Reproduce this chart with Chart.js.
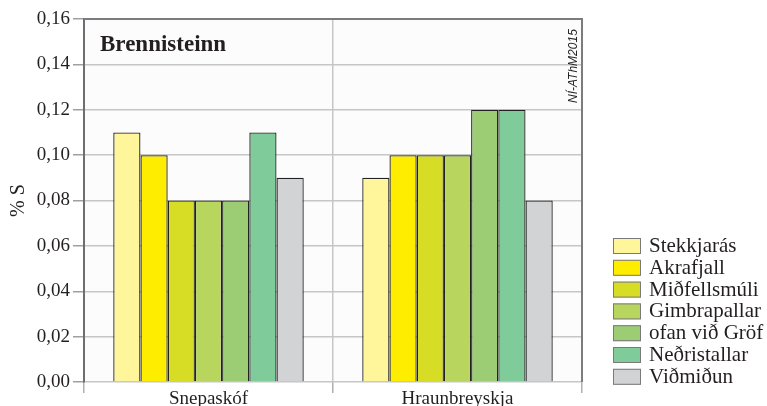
<!DOCTYPE html>
<html>
<head>
<meta charset="utf-8">
<script src="https://cdn.jsdelivr.net/npm/chart.js@4/dist/chart.umd.min.js"></script>
<style>
  html, body { margin: 0; padding: 0; background: #ffffff; }
  #wrap { width: 767px; height: 406px; }
</style>
</head>
<body>
<div id="wrap"><canvas id="chartBrennisteinn" width="767" height="406"></canvas></div>
<script>
// data
const arrStations = ["Snepaskóf", "Hraunbreyskja"];
const arrSeriesNames = ["Stekkjarás", "Akrafjall", "Miðfellsmúli", "Gimbrapallar", "ofan við Gröf", "Neðristallar", "Viðmiðun"];
const arrStekkjaras = [0.11, 0.09];
const arrAkrafjall = [0.10, 0.10];
const arrMidfellsmuli = [0.08, 0.10];
const arrGimbrapallar = [0.08, 0.10];
const arrOfanVidGrof = [0.08, 0.12];
const arrNedristallar = [0.11, 0.12];
const arrVidmidun = [0.09, 0.08];
const arrSeriesColors = ["#fff59a", "#ffed00", "#d7dd24", "#b8d65e", "#9ccd74", "#80cb9a", "#d1d3d4"];

const serif = "'Liberation Serif', 'Times New Roman', serif";
const arrValues = [arrStekkjaras, arrAkrafjall, arrMidfellsmuli, arrGimbrapallar, arrOfanVidGrof, arrNedristallar, arrVidmidun];

var datasets = [];
arrSeriesNames.forEach((name, i) => {
  datasets.push({
    label: name,
    data: arrValues[i],
    backgroundColor: arrSeriesColors[i],
    borderColor: "#222222",
    borderWidth: 1.3,
    borderSkipped: "bottom",
    categoryPercentage: 0.765,
    barPercentage: 1.0,
  });
});

// plot background, frame, title, stamp and legend
const extrasPlugin = {
  id: "extras",
  beforeDraw(chart) {
    const { ctx, chartArea: a } = chart;
    ctx.save();
    ctx.fillStyle = "#fcfcfc";
    ctx.fillRect(a.left, a.top, a.right - a.left, a.bottom - a.top);
    ctx.restore();
  },
  afterDraw(chart) {
    const { ctx, chartArea: a } = chart;
    ctx.save();
    // frame
    ctx.strokeStyle = "#7c7c7e";
    ctx.lineWidth = 2;
    ctx.beginPath();
    ctx.moveTo(a.left, a.top);
    ctx.lineTo(a.right, a.top);
    ctx.lineTo(a.right, a.bottom);
    ctx.stroke();

    // title inside plot
    ctx.fillStyle = "#231f20";
    ctx.font = "bold 23px " + serif;
    ctx.textBaseline = "alphabetic";
    ctx.fillText("Brennisteinn", 100, 51);

    // vertical stamp
    ctx.save();
    ctx.translate(577, 103);
    ctx.rotate(-Math.PI / 2);
    ctx.font = "italic 12px 'Liberation Sans', Arial, sans-serif";
    ctx.fillStyle = "#231f20";
    ctx.fillText("NÍ-AThM2015", 0, 0);
    ctx.restore();

    // legend
    ctx.font = "21px " + serif;
    chart.data.datasets.forEach((ds, i) => {
      const y = 238 + i * 21.8;
      ctx.fillStyle = ds.backgroundColor;
      ctx.fillRect(613, y, 28, 16);
      ctx.strokeStyle = "#7a7a7a";
      ctx.lineWidth = 1;
      ctx.strokeRect(613.5, y + 0.5, 27, 15);
      ctx.fillStyle = "#231f20";
      ctx.textBaseline = "middle";
      ctx.fillText(ds.label, 649, y + 8.5);
    });
    ctx.restore();
  },
};

new Chart(document.getElementById("chartBrennisteinn"), {
  type: "bar",
  plugins: [extrasPlugin],
  data: {
    labels: arrStations,
    datasets: datasets,
  },
  options: {
    responsive: false,
    animation: false,
    layout: {
      padding: { left: 7, right: 185, top: 19, bottom: 0 },
    },
    plugins: {
      legend: { display: false },
      tooltip: { enabled: false },
    },
    scales: {
      x: {
        offset: true,
        grid: {
          offset: true,
          color: "#c6c6c6",
          lineWidth: 1.5,
          tickLength: 11,
          tickColor: "#b0b0b0",
        },
        border: { display: false },
        ticks: {
          color: "#231f20",
          font: { family: serif, size: 19 },
          padding: -5,
        },
        afterFit: function (scale) {
          scale.height = 24;
        },
      },
      y: {
        min: 0,
        max: 0.16,
        border: { display: true, color: "#6d6e71", width: 2 },
        grid: {
          color: function (context) {
            const v = Math.round(context.tick.value * 100);
            return v % 2 === 0 ? "#c6c6c6" : "rgba(0,0,0,0)";
          },
          lineWidth: 1.5,
          tickLength: 11,
          tickColor: "#a0a0a2",
        },
        ticks: {
          stepSize: 0.01,
          color: "#231f20",
          font: { family: serif, size: 19 },
          padding: 3,
          callback: function (value) {
            const v = Math.round(value * 100);
            if (v % 2 !== 0) return "";
            return (v / 100).toFixed(2).replace(".", ",");
          },
        },
        title: {
          display: true,
          text: "% S",
          color: "#231f20",
          font: { family: serif, size: 20 },
          padding: { top: 0, bottom: 0 },
        },
        afterFit: function (scale) {
          scale.width = 77;
        },
      },
    },
  },
});
</script>
</body>
</html>
